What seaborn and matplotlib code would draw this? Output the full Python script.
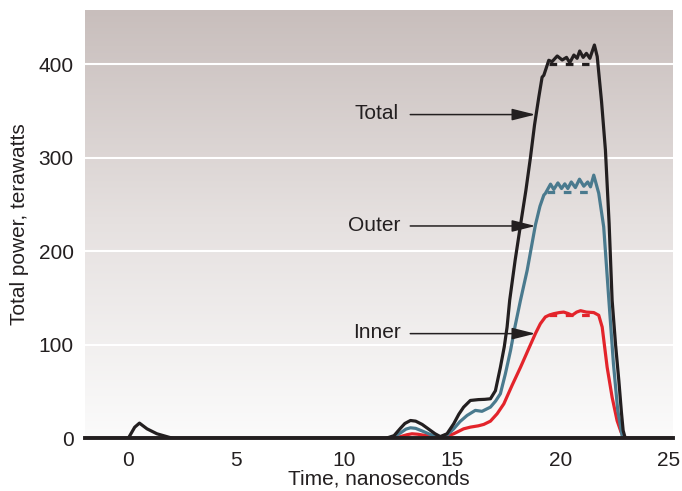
import matplotlib
matplotlib.use('Agg')
import matplotlib.pyplot as plt
from matplotlib.colors import LinearSegmentedColormap
import seaborn as sns
import numpy as np
import pandas as pd

# values (time in ns, power in TW)
total_t = [-2, 0, 0.15, 0.3, 0.52, 0.87, 1.33, 1.87, 2.1, 11.9, 12.3, 12.6, 12.8, 13.06, 13.3,
           13.6, 13.9, 14.2, 14.44, 14.75, 15.06, 15.3, 15.52, 15.83, 16.2, 16.5, 16.76, 16.99,
           17.22, 17.4, 17.53, 17.65, 17.9, 18.15, 18.4, 18.61, 18.8, 19.0, 19.15, 19.23, 19.46,
           19.61, 19.85, 20.08, 20.28, 20.43, 20.62, 20.77, 20.89, 21.05, 21.2, 21.36, 21.57,
           21.7, 21.9, 22.08, 22.25, 22.39, 22.55, 22.7, 22.82, 22.9, 23.0, 25.2]
total_p = [0, 0, 6, 12, 16.4, 10.3, 5, 1.4, 0, 0, 3, 11, 16, 19.2, 18.5,
           15, 10, 5, 2, 5, 15.7, 26, 33.5, 40.6, 41.5, 41.8, 42.4, 51,
           76, 98, 119, 147.6, 190, 228, 265, 300, 335, 365, 386, 388, 404,
           402.5, 408.6, 404.3, 407.1, 401.4, 409.6, 406.1, 413.9, 407.1, 411.4, 406.1, 420.3,
           408, 360, 308, 230, 147.6, 100, 62, 28, 8.5, 0, 0]

outer_t = [-2, 11.97, 12.3, 12.6, 12.85, 13.06, 13.3, 13.6, 13.9, 14.2, 14.44, 14.75, 15.06,
           15.35, 15.68, 16.06, 16.37, 16.76, 17.0, 17.22, 17.45, 17.69, 17.9, 18.15, 18.46,
           18.84, 19.05, 19.23, 19.3, 19.54, 19.69, 19.88, 20.05, 20.2, 20.34, 20.5, 20.69, 20.88,
           21.08, 21.26, 21.39, 21.54, 21.77, 22.0, 22.24, 22.45, 22.65, 22.85, 23.0, 25.2]
outer_p = [0, 0, 2, 6, 10, 11.4, 10.8, 8, 5, 2.5, 1.5, 3.5, 10.3,
           18, 24.6, 30, 29, 33.5, 40, 47.8, 69, 94, 120, 147.6, 179.7,
           228, 248, 260, 261.7, 271.7, 266, 273, 267, 272, 267, 274, 268, 277,
           269.5, 274, 268.8, 281.3, 262, 226, 147.6, 80, 30, 3, 0, 0]

inner_t = [-2, 12.2, 12.6, 12.9, 13.13, 13.4, 13.8, 14.2, 14.44, 14.75, 15.06, 15.52, 15.83,
           16.2, 16.45, 16.76, 17.07, 17.38, 17.76, 18.15, 18.53, 18.84, 19.07, 19.3, 19.5, 19.69,
           19.95, 20.15, 20.35, 20.54, 20.75, 20.93, 21.2, 21.54, 21.77, 21.93, 22.16, 22.39,
           22.62, 22.8, 22.93, 23.0, 25.2]
inner_p = [0, 0, 2, 4, 5, 4.5, 3, 1.5, 1, 2.5, 5, 10.3, 12.1,
           13.5, 15, 18.5, 26.4, 37, 56.7, 76, 95.9, 112, 122.6, 129.8, 132, 133.3,
           134.5, 135, 133.5, 131.6, 135, 136.5, 135, 134.5, 131.6, 119, 76, 44,
           19, 7, 1.4, 0, 0]

# flat-top reference levels (dashed)
flat_t = {'Total': [19.45, 21.3], 'Outer': [19.38, 21.4], 'Inner': [19.45, 21.7]}
flat_p = {'Total': [400, 400], 'Outer': [263.5, 263.5], 'Inner': [131.5, 131.5]}

# label positions and arrow tips
label_names = ['Total', 'Outer', 'Inner']
label_x = [11.5, 11.4, 11.5]
label_y = [347, 228, 113]
arrow_start_x = [13.05, 13.05, 13.05]
arrow_tip_x = [18.84, 18.84, 18.84]

colors = {'Total': '#231f20', 'Outer': '#4a7a8e', 'Inner': '#e3242b'}

sns.set_style('white')
plt.rcParams['font.family'] = ['Liberation Sans', 'DejaVu Sans']

fig = plt.figure(figsize=(6.82, 4.91), dpi=100)
ax = fig.add_axes([0.1246, 0.107, 0.862, 0.8726])

xmin, xmax, ymin, ymax = -2, 25.2, 0, 457.7

# vertical background gradient
bg = LinearSegmentedColormap.from_list('bg', ['#fbfbfb', '#e6e1e0', '#c8bebc'])
grad = np.linspace(0, 1, 256).reshape(-1, 1)
ax.imshow(grad, cmap=bg, origin='lower', aspect='auto',
          extent=[xmin, xmax, ymin, ymax], zorder=0)

for gy in [100, 200, 300, 400]:
    ax.axhline(gy, color='white', lw=1.5, zorder=1)

lw = 2.3
series = [('Inner', inner_t, inner_p), ('Outer', outer_t, outer_p), ('Total', total_t, total_p)]
for name, t, p in series:
    df = pd.DataFrame({'t': t, 'p': p})
    sns.lineplot(data=df, x='t', y='p', ax=ax, color=colors[name], lw=lw,
                 sort=False, estimator=None, zorder=3)
    ax.plot(flat_t[name], flat_p[name], color=colors[name], lw=lw,
            ls=(0, (2.4, 2.7)), solid_capstyle='butt', zorder=2)

for name, lx, ly, sx, tx in zip(label_names, label_x, label_y, arrow_start_x, arrow_tip_x):
    ax.text(lx, ly, name, ha='center', va='center', fontsize=15, color='#231f20', zorder=5)
    ax.annotate('', xy=(tx, ly - 1), xytext=(sx, ly - 1),
                arrowprops=dict(arrowstyle='-|>,head_length=1.2,head_width=0.3',
                                mutation_scale=12, color='#231f20', lw=1.1,
                                shrinkA=0, shrinkB=0), zorder=5)

ax.set_xlim(xmin, xmax)
ax.set_ylim(ymin, ymax)
ax.set_xticks([0, 5, 10, 15, 20, 25])
ax.set_yticks([0, 100, 200, 300, 400])
ax.tick_params(axis='x', direction='in', length=7, width=1, color='#231f20',
               pad=9, labelsize=15, labelcolor='#231f20')
ax.tick_params(axis='y', length=0, pad=8, labelsize=15, labelcolor='#231f20')
ax.xaxis.get_major_ticks()[-1].tick1line.set_visible(False)

for side in ['top', 'right', 'left']:
    ax.spines[side].set_visible(False)
ax.spines['bottom'].set_linewidth(2.8)
ax.spines['bottom'].set_color('#231f20')
ax.spines['bottom'].set_zorder(4)

ax.set_xlabel('Time, nanoseconds', fontsize=15, color='#231f20', labelpad=0)
ax.set_ylabel('Total power, terawatts', fontsize=15, color='#231f20', labelpad=7)

fig.savefig('out.png', dpi=100)
